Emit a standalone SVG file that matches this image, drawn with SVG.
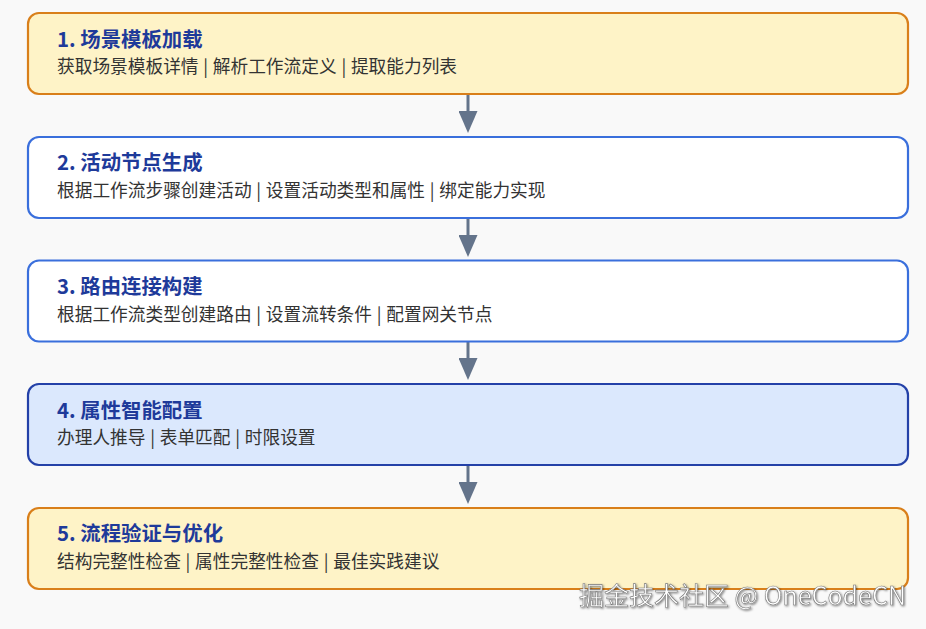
<svg xmlns="http://www.w3.org/2000/svg" width="926" height="629" viewBox="0 0 926 629">
<style>
.box{stroke-width:2.2}
.y{fill:#fef3c7;stroke:#d97f1a}
.w{fill:#ffffff;stroke:#3a6fdc}
.b{fill:#dbe8fd;stroke:#2441a8}
.t{font-family:"Noto Sans CJK SC","Noto Sans",sans-serif;font-weight:700;font-size:20.4px;fill:#1e3a9a}
.s{font-family:"Noto Sans CJK SC","Noto Sans",sans-serif;font-size:17.7px;fill:#333333;word-spacing:0.8px}
.c{stroke:#64748b;stroke-width:3;fill:none}
.wm{font-family:"Noto Sans CJK SC","Noto Sans",sans-serif;font-size:25px;fill:#ffffff;stroke:#777;stroke-width:0.6}
</style>
<defs>
<marker id="ah" viewBox="0 0 22 19" markerWidth="22" markerHeight="19" refX="0" refY="9.5" orient="auto" markerUnits="userSpaceOnUse">
<path d="M0,0 L22,9.5 L0,19 z" fill="#64748b"/>
</marker>
<filter id="sh" x="-5%" y="-30%" width="110%" height="160%">
<feDropShadow dx="1" dy="1" stdDeviation="0.8" flood-color="#000" flood-opacity="0.5"/>
</filter>
</defs>
<rect width="926" height="629" fill="#f9f9f9"/>
<g id="connectors">
<path class="c" d="M468,95 L468,111" marker-end="url(#ah)"/>
<path class="c" d="M468,219 L468,235" marker-end="url(#ah)"/>
<path class="c" d="M468,342 L468,358" marker-end="url(#ah)"/>
<path class="c" d="M468,466 L468,482" marker-end="url(#ah)"/>
</g>
<g id="node1">
<rect class="box y" x="28" y="13" width="880" height="81" rx="11"/>
<text class="t" x="57" y="47">1. 场景模板加载</text>
<text class="s" x="57" y="73">获取场景模板详情 | 解析工作流定义 | 提取能力列表</text>
</g>
<g id="node2">
<rect class="box w" x="28" y="137" width="880" height="81" rx="11"/>
<text class="t" x="57" y="170">2. 活动节点生成</text>
<text class="s" x="57" y="197">根据工作流步骤创建活动 | 设置活动类型和属性 | 绑定能力实现</text>
</g>
<g id="node3">
<rect class="box w" x="28" y="260.5" width="880" height="81" rx="11"/>
<text class="t" x="57" y="294">3. 路由连接构建</text>
<text class="s" x="57" y="320.5">根据工作流类型创建路由 | 设置流转条件 | 配置网关节点</text>
</g>
<g id="node4">
<rect class="box b" x="28" y="384" width="880" height="81" rx="11"/>
<text class="t" x="57" y="418">4. 属性智能配置</text>
<text class="s" x="57" y="444">办理人推导 | 表单匹配 | 时限设置</text>
</g>
<g id="node5">
<rect class="box y" x="28" y="508" width="880" height="81" rx="11"/>
<text class="t" x="57" y="541">5. 流程验证与优化</text>
<text class="s" x="57" y="568">结构完整性检查 | 属性完整性检查 | 最佳实践建议</text>
</g>
<text class="wm" x="906" y="605" text-anchor="end" filter="url(#sh)">掘金技术社区 @ OneCodeCN</text>
</svg>
